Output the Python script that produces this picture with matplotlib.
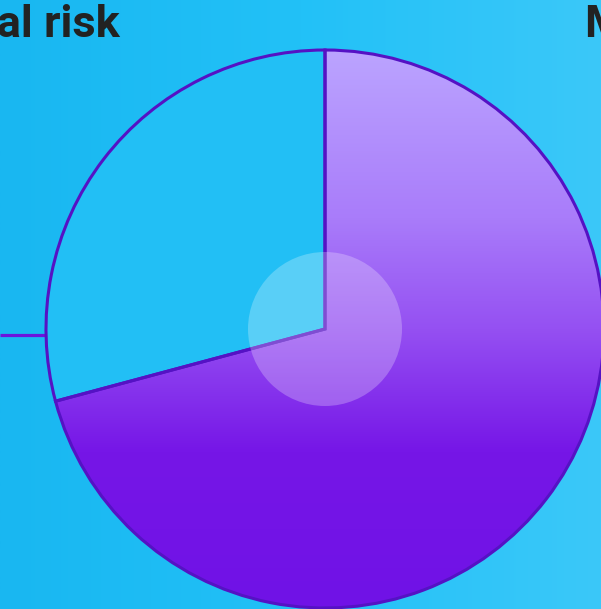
import numpy as np
import matplotlib
matplotlib.use("Agg")
import matplotlib.pyplot as plt
from matplotlib.colors import LinearSegmentedColormap
from matplotlib.patches import Circle

# share of the two slices (clockwise from 12 o'clock)
labels = ["Mitigated risk", "Potential risk"]
values = [17, 7]
slice_colors = ["#8a40f0", "#22bff5"]

W, H = 601, 609
# pie centre/radius in pixels, y measured from the bottom
cx, cy, r = 325, H - 329, 279

fig = plt.figure(figsize=(W / 100, H / 100), dpi=100)
ax = fig.add_axes([0, 0, 1, 1])

# background: horizontal blue gradient
bg = LinearSegmentedColormap.from_list("bg", ["#19b7f1", "#22c1f7", "#3bc8f9"])
ax.imshow(np.linspace(0, 1, 256)[None, :], cmap=bg, aspect="auto",
          extent=(0, W, 0, H), zorder=0)

# leader line on the left
ax.plot([0, cx - r], [H - 335, H - 335], color="#6c14dc", lw=2.3, zorder=1,
        solid_capstyle="butt")

wedges, _ = ax.pie(values, colors=slice_colors, startangle=90, counterclock=False,
                   center=(cx, cy), radius=r, wedgeprops=dict(linewidth=0))
for w in wedges:
    w.set_zorder(1)

# vertical purple gradient clipped to the big slice (row 0 = top)
purple = LinearSegmentedColormap.from_list(
    "pu", [(0.0, "#bba4ff"), (0.3, "#a97cfa"), (0.5, "#9550f2"),
           (0.72, "#7616e7"), (1.0, "#7012e6")])
grad = ax.imshow(np.linspace(0, 1, 256)[:, None], cmap=purple, aspect="auto",
                 extent=(cx - r, cx + r, cy - r, cy + r), zorder=1.5)
grad.set_clip_path(wedges[0])

# slice outlines on top
edges, _ = ax.pie(values, colors=["none", "none"], startangle=90, counterclock=False,
                  center=(cx, cy), radius=r,
                  wedgeprops=dict(linewidth=2.2, edgecolor="#5512c4", fill=False))
for w in edges:
    w.set_zorder(3)

# translucent hole in the middle
ax.add_patch(Circle((cx, cy), 77, facecolor="white", alpha=0.25, edgecolor="none", zorder=4))

# headings (cut off by the figure edges, as in the original)
ax.text(120, H - 37, "Potential risk", ha="right", va="baseline", fontsize=32.5,
        fontweight="bold", color="#222222", family="Roboto", zorder=5)
ax.text(585, H - 37, "Mitigated risk", ha="left", va="baseline", fontsize=32.5,
        fontweight="bold", color="#222222", family="Roboto", zorder=5)

ax.set_xlim(0, W)
ax.set_ylim(0, H)
ax.set_aspect("auto")
ax.axis("off")

fig.savefig("out.png", dpi=100)
